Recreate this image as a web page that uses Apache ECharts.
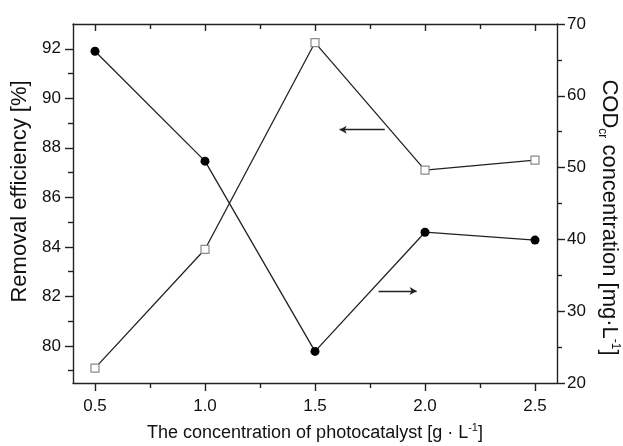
<!DOCTYPE html>
<html>
<head>
<meta charset="utf-8">
<script src="https://cdn.jsdelivr.net/npm/echarts@6/dist/echarts.min.js"></script>
<style>
  html, body { margin: 0; padding: 0; background: #fff; }
  #chart { width: 623px; height: 446px; }
</style>
</head>
<body>
<div id="chart"></div>
<script>
// Photocatalyst dose vs. removal efficiency and residual COD
const dose = [0.5, 1.0, 1.5, 2.0, 2.5];
const removalEfficiency = [79.1, 83.9, 92.25, 87.1, 87.5];
const codConcentration = [66.2, 50.9, 24.4, 41.0, 39.9];

// tick positions
const doseTicks = [0.5, 1.0, 1.5, 2.0, 2.5];
const doseMinorTicks = [0.75, 1.25, 1.75, 2.25];
const effTicks = [80, 82, 84, 86, 88, 90, 92];
const effMinorTicks = [79, 81, 83, 85, 87, 89, 91];

// arrows pointing each curve to its axis: [x from, x to, y]
const effArrow = [1.817, 1.612, 88.73];
const codArrow = [1.789, 1.962, 32.8];

const FONT = 'Liberation Sans, Arial, sans-serif';
const INK = '#222';
const xRange = { min: 0.4, max: 2.6 };
const effRange = { min: 78.5, max: 93.0 };

const chart = echarts.init(document.getElementById('chart'));

const lineStyle = { color: INK, width: 1.4 };

chart.setOption({
  animation: false,
  backgroundColor: '#fff',
  grid: { left: 73, right: 66, top: 24, bottom: 63, containLabel: false, outerBoundsMode: 'none' },
  xAxis: [
    {
      type: 'value', position: 'bottom', ...xRange,
      name: 'The concentration of photocatalyst [g · L{sup|-1}]',
      nameLocation: 'middle', nameGap: 39,
      nameTextStyle: {
        fontFamily: FONT, fontSize: 18, color: '#111', lineHeight: 22,
        rich: { sup: { fontFamily: FONT, fontSize: 11, color: '#111', lineHeight: 11, verticalAlign: 'top' } }
      },
      axisLine: { show: true, lineStyle },
      axisTick: { show: true, inside: false, length: 8, lineStyle, customValues: doseTicks },
      axisLabel: {
        show: true, margin: 15, fontFamily: FONT, fontSize: 17, color: '#111',
        customValues: doseTicks, formatter: v => v.toFixed(1)
      },
      splitLine: { show: false }
    },
    {
      type: 'value', position: 'bottom', ...xRange,
      axisLine: { show: false },
      axisTick: { show: true, inside: false, length: 5, lineStyle, customValues: doseMinorTicks },
      axisLabel: { show: false },
      splitLine: { show: false }
    },
    {
      type: 'value', position: 'top', ...xRange,
      axisLine: { show: true, lineStyle },
      axisTick: { show: true, inside: true, length: 7, lineStyle, customValues: doseTicks },
      axisLabel: { show: false },
      splitLine: { show: false }
    },
    {
      type: 'value', position: 'top', ...xRange,
      axisLine: { show: false },
      axisTick: { show: true, inside: true, length: 5, lineStyle, customValues: doseMinorTicks },
      axisLabel: { show: false },
      splitLine: { show: false }
    }
  ],
  yAxis: [
    {
      type: 'value', position: 'left', ...effRange,
      name: 'Removal efficiency [%]',
      nameLocation: 'middle', nameGap: 39,
      nameTextStyle: { fontFamily: FONT, fontSize: 22, color: '#111', padding: [0, 0, 0, 24] },
      axisLine: { show: true, lineStyle },
      axisTick: { show: true, inside: false, length: 8, lineStyle, customValues: effTicks },
      axisLabel: {
        show: true, margin: 12, fontFamily: FONT, fontSize: 17, color: '#111',
        customValues: effTicks
      },
      splitLine: { show: false }
    },
    {
      type: 'value', position: 'right', min: 20, max: 70, interval: 10,
      name: 'COD{sub|cr} concentration [mg·L{sup|-1}]',
      nameLocation: 'middle', nameGap: 38, nameRotate: -90,
      nameTextStyle: {
        fontFamily: FONT, fontSize: 22, color: '#111', lineHeight: 25, padding: [0, 0, 0, 28],
        rich: {
          sub: { fontFamily: FONT, fontSize: 12, color: '#111', lineHeight: 12, verticalAlign: 'bottom' },
          sup: { fontFamily: FONT, fontSize: 12, color: '#111', lineHeight: 12, verticalAlign: 'top' }
        }
      },
      axisLine: { show: true, lineStyle },
      axisTick: { show: true, inside: false, length: 8, lineStyle },
      minorTick: { show: true, splitNumber: 2, length: 5, lineStyle },
      axisLabel: { show: true, margin: 10, fontFamily: FONT, fontSize: 17, color: '#111' },
      splitLine: { show: false },
      minorSplitLine: { show: false }
    },
    {
      type: 'value', position: 'left', ...effRange,
      axisLine: { show: false },
      axisTick: { show: true, inside: false, length: 5, lineStyle, customValues: effMinorTicks },
      axisLabel: { show: false },
      splitLine: { show: false }
    }
  ],
  series: [
    {
      name: 'Removal efficiency',
      type: 'line',
      xAxisIndex: 0, yAxisIndex: 0,
      data: dose.map((d, i) => [d, removalEfficiency[i]]),
      lineStyle: { color: INK, width: 1.3 },
      symbol: 'rect', symbolSize: 8,
      itemStyle: { color: '#fff', borderColor: '#8a8a8a', borderWidth: 1.2 },
      z: 3,
      markLine: {
        silent: true, symbol: ['none', 'arrow'], symbolSize: [6, 7],
        label: { show: false },
        lineStyle: { color: INK, width: 1.3, type: 'solid' },
        data: [[{ coord: [effArrow[0], effArrow[2]] }, { coord: [effArrow[1], effArrow[2]] }]]
      }
    },
    {
      name: 'CODcr concentration',
      type: 'line',
      xAxisIndex: 0, yAxisIndex: 1,
      data: dose.map((d, i) => [d, codConcentration[i]]),
      lineStyle: { color: INK, width: 1.3 },
      symbol: 'circle', symbolSize: 9,
      itemStyle: { color: '#000', borderColor: '#000', borderWidth: 0 },
      z: 3,
      markLine: {
        silent: true, symbol: ['none', 'arrow'], symbolSize: [6, 7],
        label: { show: false },
        lineStyle: { color: INK, width: 1.3, type: 'solid' },
        data: [[{ coord: [codArrow[0], codArrow[2]] }, { coord: [codArrow[1], codArrow[2]] }]]
      }
    }
  ]
});
</script>
</body>
</html>
